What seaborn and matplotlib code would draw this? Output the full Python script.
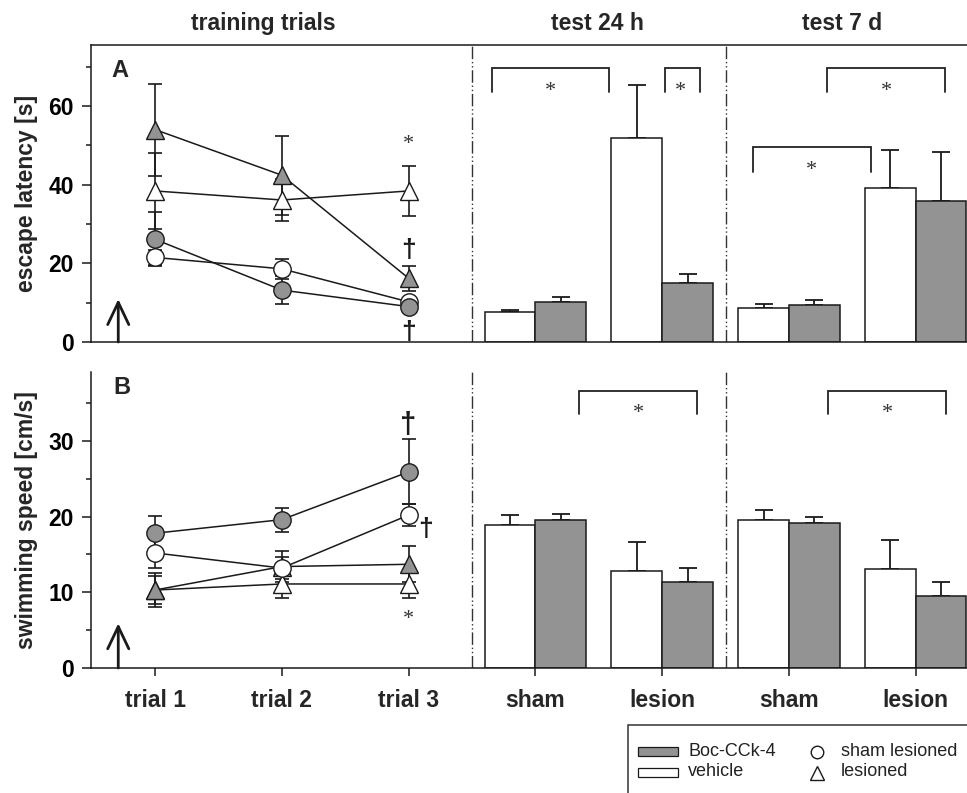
import numpy as np
import pandas as pd
import matplotlib
matplotlib.use("Agg")
import matplotlib.pyplot as plt
import matplotlib.transforms as mtransforms
from matplotlib.patches import Rectangle
from matplotlib.lines import Line2D
import seaborn as sns

# ---------------- data ----------------
x_labels = ["trial 1", "trial 2", "trial 3", "sham", "lesion", "sham", "lesion"]
headers = ["training trials", "test 24 h", "test 7 d"]
trial_pos = [0, 1, 2]
bar_pos = [3, 4, 5, 6]
treatments = ["vehicle", "Boc-CCk-4"]

# Panel A: escape latency [s] (training trials)
latA_sham_boc = [26.1, 13.2, 9.0]
latA_sham_boc_err = [6.9, 3.5, 1.0]
latA_sham_veh = [21.5, 18.6, 10.2]
latA_sham_veh_err = [2.0, 2.6, 1.0]
latA_les_boc = [54.0, 42.4, 16.2]
latA_les_boc_err = [11.7, 10.0, 3.2]
latA_les_veh = [38.4, 36.1, 38.4]
latA_les_veh_err = [9.7, 5.4, 6.3]
# Panel A: tests (sham 24h, lesion 24h, sham 7d, lesion 7d)
barA_veh = [7.5, 51.8, 8.6, 39.2]
barA_veh_err = [0.6, 13.5, 1.0, 9.6]
barA_boc = [10.2, 15.1, 9.4, 35.8]
barA_boc_err = [1.3, 2.2, 1.4, 12.5]

# Panel B: swimming speed [cm/s]
spdB_sham_boc = [17.8, 19.6, 25.9]
spdB_sham_boc_err = [2.3, 1.6, 4.3]
spdB_sham_veh = [15.2, 13.2, 20.2]
spdB_sham_veh_err = [2.0, 1.5, 1.4]
spdB_les_boc = [10.3, 13.4, 13.7]
spdB_les_boc_err = [1.8, 2.1, 2.4]
spdB_les_veh = [10.3, 11.1, 11.1]
spdB_les_veh_err = [2.3, 1.9, 1.8]
barB_veh = [18.9, 12.8, 19.6, 13.1]
barB_veh_err = [1.3, 3.9, 1.3, 3.8]
barB_boc = [19.6, 11.3, 19.1, 9.5]
barB_boc_err = [0.8, 1.9, 0.8, 1.8]

# ---------------- style ----------------
sns.set_theme(style="ticks")
plt.rcParams["font.family"] = ["Liberation Sans", "DejaVu Sans"]
plt.rcParams["font.weight"] = "bold"
plt.rcParams["axes.labelweight"] = "bold"

GRAY = "#939393"
INK = "#1a1a1a"
FS = 16.5
LW = 1.1

W, H = 967, 793
fig = plt.figure(figsize=(W / 100, H / 100), dpi=100)
fig.patch.set_facecolor("white")

def fx(px):
    return px / W

def fy(py):
    return (H - py) / H

axA = fig.add_axes([fx(91), fy(342), fx(967 - 91), (342 - 45) / H])
axB = fig.add_axes([fx(91), fy(668), fx(967 - 91), (668 - 372) / H])

XLIM = (-0.505, 6.404)


def draw_panel(ax, lines, bar_veh, bar_veh_err, bar_boc, bar_boc_err):
    # bars
    df = pd.DataFrame({
        "pos": bar_pos * 2,
        "value": list(bar_veh) + list(bar_boc),
        "treatment": ["vehicle"] * 4 + ["Boc-CCk-4"] * 4,
    })
    sns.barplot(data=df, x="pos", y="value", hue="treatment",
                hue_order=treatments, palette={"vehicle": "white", "Boc-CCk-4": GRAY},
                native_scale=True, width=0.8, dodge=True, errorbar=None,
                saturation=1, edgecolor=INK, linewidth=LW, legend=False, ax=ax,
                zorder=2)
    pos = np.array(bar_pos, dtype=float)
    for offs, vals, errs in [(-0.2, bar_veh, bar_veh_err), (0.2, bar_boc, bar_boc_err)]:
        ax.errorbar(pos + offs, vals, yerr=[np.zeros(len(errs)), errs], fmt="none",
                    ecolor=INK, elinewidth=1.3, capsize=6.5, capthick=1.3, zorder=1.5)
    # training lines: (values, errors, marker, face, size)
    for vals, errs, mk, fc, ms in lines:
        ax.errorbar(trial_pos, vals, yerr=errs, fmt="none", ecolor=INK,
                    elinewidth=1.2, capsize=4.9, capthick=1.2, zorder=2.5)
        sns.lineplot(x=trial_pos, y=vals, color=INK, lw=LW, marker=mk,
                     markerfacecolor=fc, markeredgecolor=INK, markeredgewidth=1.0,
                     markersize=ms, ax=ax, zorder=3, sort=False)
    ax.set_xlim(*XLIM)
    for xs in (2.5, 4.5):
        ax.axvline(xs, color="#333333", lw=1.0, dashes=(9, 2, 1, 2, 1, 2), zorder=1)
    ax.spines["right"].set_visible(False)
    for s in ("left", "bottom", "top"):
        ax.spines[s].set_linewidth(LW)
        ax.spines[s].set_color(INK)
    ax.tick_params(axis="y", which="major", length=6.5, width=LW, color=INK,
                   labelsize=FS, pad=6, labelcolor="black")
    ax.tick_params(axis="y", which="minor", length=3.3, width=LW, color=INK)
    ax.set_xlabel("")


# ---------------- panel A ----------------
linesA = [
    (latA_sham_veh, latA_sham_veh_err, "o", "white", 12.5),
    (latA_sham_boc, latA_sham_boc_err, "o", GRAY, 12.5),
    (latA_les_veh, latA_les_veh_err, "^", "white", 13.5),
    (latA_les_boc, latA_les_boc_err, "^", GRAY, 13.5),
]
draw_panel(axA, linesA, barA_veh, barA_veh_err, barA_boc, barA_boc_err)
axA.set_ylim(0, 75.5)
axA.set_yticks([0, 20, 40, 60])
axA.set_yticks([10, 30, 50, 70], minor=True)
axA.tick_params(axis="x", which="both", length=0, labelbottom=False)
axA.set_ylabel("escape latency [s]", fontsize=FS, fontweight="bold")
axA.yaxis.set_label_coords(-0.061, 0.5)

# ---------------- panel B ----------------
linesB = [
    (spdB_les_veh, spdB_les_veh_err, "^", "white", 13.5),
    (spdB_les_boc, spdB_les_boc_err, "^", GRAY, 13.5),
    (spdB_sham_veh, spdB_sham_veh_err, "o", "white", 12.5),
    (spdB_sham_boc, spdB_sham_boc_err, "o", GRAY, 12.5),
]
draw_panel(axB, linesB, barB_veh, barB_veh_err, barB_boc, barB_boc_err)
axB.spines["top"].set_visible(False)
axB.set_ylim(0, 39.1)
axB.set_yticks([0, 10, 20, 30])
axB.set_yticks([5, 15, 25, 35], minor=True)
axB.set_xticks(range(len(x_labels)))
axB.set_xticklabels(x_labels, fontsize=FS, fontweight="bold")
axB.tick_params(axis="x", which="major", length=6, width=LW, color=INK, pad=9)
axB.tick_params(axis="x", which="minor", length=0)
axB.set_ylabel("swimming speed [cm/s]", fontsize=FS, fontweight="bold")
axB.yaxis.set_label_coords(-0.061, 0.5)

for ax in (axA, axB):
    for t in ax.get_yticklabels():
        t.set_fontweight("bold")

# ---------------- annotations ----------------
STAR = dict(family=["Liberation Serif", "DejaVu Serif"], fontweight="normal",
            fontsize=16, color="#333333", ha="center", va="center")
DAG = dict(fontweight="bold", fontsize=19, color=INK, ha="center", va="center")

def bracket(ax, x0, x1, ytop, yleg, xs, ys):
    ax.plot([x0, x0, x1, x1], [yleg, ytop, ytop, yleg], color="#222222", lw=1.3,
            solid_joinstyle="miter", zorder=4)
    ax.text(xs, ys, "*", **STAR)

bracket(axA, 2.655, 3.583, 69.7, 63.6, 3.115, 63.8)
bracket(axA, 4.022, 4.298, 69.7, 63.6, 4.146, 63.8)
bracket(axA, 5.302, 6.233, 69.7, 63.6, 5.77, 63.8)
bracket(axA, 4.714, 5.644, 49.6, 43.3, 5.18, 43.6)
bracket(axB, 3.347, 4.277, 36.6, 33.6, 3.81, 33.6)
bracket(axB, 5.31, 6.238, 36.6, 33.6, 5.78, 33.6)

axA.text(2, 50.2, "*", **STAR)
axA.text(2, 23.5, "\u2020", **DAG)
axA.text(2, 2.6, "\u2020", **DAG)
axB.text(2, 32.1, "\u2020", **dict(DAG, fontsize=21))
axB.text(2.13, 18.4, "\u2020", **DAG)
axB.text(2, 6.4, "*", **STAR)

axA.text(-0.28, 69.1, "A", fontsize=17, fontweight="bold", ha="center", va="center")
axB.text(-0.26, 37.0, "B", fontsize=17, fontweight="bold", ha="center", va="center")

ARW = dict(arrowstyle="->,head_length=0.8,head_width=0.38", lw=2.0, color=INK,
           shrinkA=0, shrinkB=0, mutation_scale=20)
axA.annotate("", xy=(-0.29, 10.9), xytext=(-0.29, 0), arrowprops=ARW)
axB.annotate("", xy=(-0.29, 5.9), xytext=(-0.29, 0), arrowprops=ARW)

# headers
trans = mtransforms.blended_transform_factory(axA.transData, fig.transFigure)
for xh, txt in zip([0.852, 3.486, 5.418], headers):
    axA.text(xh, fy(30), txt, transform=trans, ha="center", va="baseline",
             fontsize=FS, fontweight="bold")

# ---------------- legend ----------------
fig.add_artist(Rectangle((fx(628), -0.1), 1.0, fy(725) + 0.1, transform=fig.transFigure,
                         fill=False, ec="#333333", lw=1.1, clip_on=False))
fig.add_artist(Rectangle((fx(638), fy(756)), fx(40), 9 / H, transform=fig.transFigure,
                         fc=GRAY, ec=INK, lw=0.9))
fig.add_artist(Rectangle((fx(638), fy(777)), fx(40), 9 / H, transform=fig.transFigure,
                         fc="white", ec=INK, lw=0.9))
LEG = dict(fontsize=13, fontweight="normal", color="#222222", va="center", ha="left")
fig.text(fx(688), fy(752), treatments[1], **LEG)
fig.text(fx(688), fy(772), treatments[0], **LEG)
fig.add_artist(Line2D([fx(817)], [fy(752)], transform=fig.transFigure, marker="o",
                      mfc="none", mec=INK, ms=9, mew=1.0, ls="none"))
fig.add_artist(Line2D([fx(817)], [fy(773)], transform=fig.transFigure, marker="^",
                      mfc="none", mec=INK, ms=9.5, mew=1.0, ls="none"))
fig.text(fx(841), fy(752), "sham lesioned", **LEG)
fig.text(fx(841), fy(772), "lesioned", **LEG)

fig.savefig("out.png", dpi=100, facecolor="white")
